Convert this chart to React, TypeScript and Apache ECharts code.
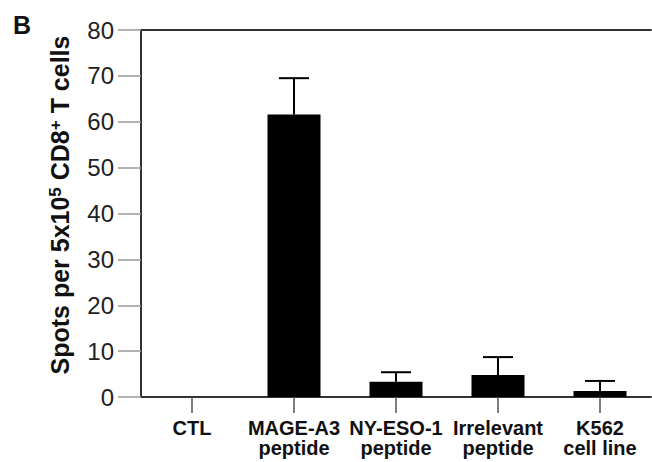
import React, { useEffect, useRef } from "react";
import * as echarts from "echarts";

const categories = ["CTL", "MAGE-A3\npeptide", "NY-ESO-1\npeptide", "Irrelevant\npeptide", "K562\ncell line"];
const means = [0, 61.6, 3.3, 4.8, 1.3];
const errorsUp = [0, 7.9, 2.1, 3.9, 2.2];
const yTicks = { min: 0, max: 80, interval: 10 };

const FONT = "'Liberation Sans', Arial, Helvetica, sans-serif";

export default function App() {
  const ref = useRef<HTMLDivElement>(null);
  useEffect(() => {
    if (!ref.current) return;
    const chart = echarts.init(ref.current, null, { renderer: "svg" });
    const errData = categories.map((_, i) => [i, means[i], errorsUp[i]]);
    chart.setOption({
      animation: false,
      backgroundColor: "#ffffff",
      grid: { left: 141, top: 30, right: 1, bottom: 65, containLabel: false },
      xAxis: [
        {
          type: "category",
          data: categories,
          position: "bottom",
          axisLine: { show: true, lineStyle: { color: "#333", width: 2 } },
          axisTick: { show: true, alignWithLabel: true, length: 16, lineStyle: { color: "#555", width: 1.5 } },
          axisLabel: {
            interval: 0,
            margin: 21,
            fontFamily: FONT,
            fontWeight: "bold",
            fontSize: 20,
            lineHeight: 20,
            color: "#111",
          },
        },
        {
          type: "category",
          data: categories,
          position: "top",
          axisLine: { show: true, lineStyle: { color: "#333", width: 2 } },
          axisTick: { show: false },
          axisLabel: { show: false },
        },
      ],
      yAxis: {
        type: "value",
        min: yTicks.min,
        max: yTicks.max,
        interval: yTicks.interval,
        splitLine: { show: false },
        axisLine: { show: true, lineStyle: { color: "#333", width: 2 } },
        axisTick: { show: true, length: 23, lineStyle: { color: "#999", width: 1.5 } },
        axisLabel: { margin: 27, fontFamily: FONT, fontSize: 24, color: "#222" },
      },
      graphic: [
        {
          type: "text",
          left: 13,
          top: 12,
          style: { text: "B", font: `bold 25px ${FONT}`, fill: "#111" },
        },
        {
          type: "text",
          x: 60,
          y: 205,
          rotation: Math.PI / 2,
          style: {
            text: "{a|Spots per 5x10}{s|5}{a| CD8}{s|+}{a| T cells}",
            align: "center",
            verticalAlign: "middle",
            rich: {
              a: { fontFamily: FONT, fontWeight: "bold", fontSize: 25, lineHeight: 26, fill: "#111" },
              s: { fontFamily: FONT, fontWeight: "bold", fontSize: 17, verticalAlign: "top", lineHeight: 15, fill: "#111" },
            },
          },
        },
      ],
      series: [
        {
          type: "bar",
          data: means,
          barWidth: 53,
          itemStyle: { color: "#000" },
          xAxisIndex: 0,
        },
        {
          type: "custom",
          xAxisIndex: 0,
          data: errData,
          encode: { x: 0, y: 1 },
          z: 3,
          renderItem: (params: any, api: any) => {
            const idx = api.value(0);
            const v = api.value(1);
            const e = api.value(2);
            if (!e) return { type: "group", children: [] };
            const base = api.coord([idx, v]);
            const top = api.coord([idx, v + e]);
            const half = 15;
            const style = { stroke: "#000", lineWidth: 2 };
            return {
              type: "group",
              children: [
                { type: "line", shape: { x1: base[0], y1: base[1], x2: top[0], y2: top[1] }, style },
                { type: "line", shape: { x1: top[0] - half, y1: top[1], x2: top[0] + half, y2: top[1] }, style },
              ],
            };
          },
        },
      ],
    });
    return () => chart.dispose();
  }, []);
  return <div ref={ref} style={{ position: "fixed", left: 0, top: 0, width: 652, height: 462 }} />;
}
